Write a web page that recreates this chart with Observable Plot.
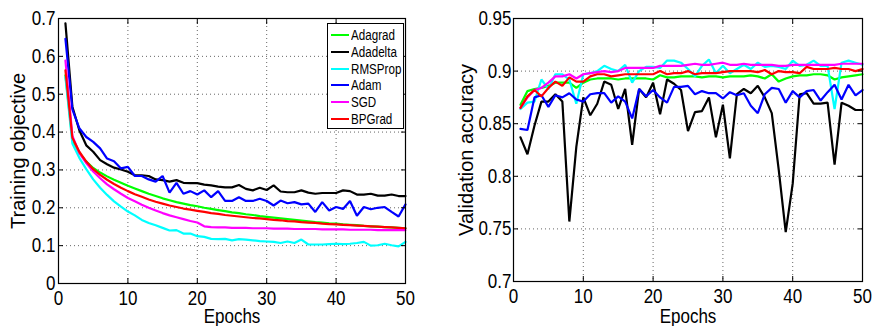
<!DOCTYPE html>
<html>
<head>
<meta charset="utf-8">
<script src="https://cdn.jsdelivr.net/npm/d3@7"></script>
<script src="https://cdn.jsdelivr.net/npm/@observablehq/plot@0.6"></script>
<style>
  html, body { margin: 0; padding: 0; background: white; }
  #wrap { position: relative; width: 873px; height: 326px; overflow: hidden; font-family: "Liberation Sans", Arial, sans-serif; }
  #left { position: absolute; left: 0; top: 0; }
  #right { position: absolute; left: 440px; top: 0; }
  #legend { position: absolute; left: 327px; top: 23px; width: 75px; height: 104px; border: 1px solid black; background: white; box-sizing: content-box; }
  .row { position: absolute; left: 0; height: 16px; display: flex; align-items: center; font-size: 14px; white-space: nowrap; }
  .sw { width: 18px; height: 2px; margin-left: 3px; margin-right: 2px; flex: none; }
  .lt { display: inline-block; transform: scaleX(0.83); transform-origin: left center; }
</style>
</head>
<body>
<div id="wrap">
  <div id="left"></div>
  <div id="right"></div>
  <div id="legend"></div>
</div>
<script>
// ---- data ----
const methods = ["Adagrad", "Adadelta", "RMSProp", "Adam", "SGD", "BPGrad"];
const colors = ["#00ff00", "#000000", "#00ffff", "#0000ff", "#ff00ff", "#ff0000"];
const xTicks = [0, 10, 20, 30, 40, 50];
const trainTicks = [0, 0.1, 0.2, 0.3, 0.4, 0.5, 0.6, 0.7];
const valTicks = [0.7, 0.75, 0.8, 0.85, 0.9, 0.95];

// Training objective per epoch (1..50)
const trainAdagrad = [0.55,0.38,0.345,0.322,0.305,0.293,0.283,0.274,0.266,0.258,0.251,0.244,0.237,0.231,0.225,0.22,0.215,0.211,0.207,0.204,0.2,0.197,0.194,0.191,0.188,0.186,0.183,0.181,0.178,0.176,0.174,0.172,0.17,0.168,0.166,0.164,0.162,0.161,0.159,0.158,0.156,0.155,0.154,0.152,0.151,0.15,0.149,0.148,0.147,0.146];
const trainAdadelta = [0.687,0.467,0.405,0.365,0.348,0.326,0.315,0.306,0.301,0.295,0.286,0.286,0.284,0.275,0.273,0.269,0.273,0.266,0.265,0.265,0.261,0.259,0.256,0.254,0.254,0.26,0.25,0.246,0.253,0.247,0.259,0.243,0.241,0.241,0.246,0.24,0.237,0.239,0.239,0.239,0.246,0.244,0.235,0.235,0.237,0.232,0.232,0.235,0.231,0.231];
const trainRMSProp = [0.545,0.37,0.332,0.302,0.275,0.253,0.234,0.217,0.203,0.19,0.18,0.168,0.16,0.154,0.147,0.14,0.141,0.132,0.132,0.125,0.123,0.118,0.117,0.118,0.114,0.117,0.116,0.114,0.112,0.111,0.11,0.107,0.111,0.107,0.116,0.103,0.103,0.103,0.104,0.105,0.104,0.105,0.107,0.11,0.1,0.101,0.105,0.101,0.098,0.11];
const trainAdam = [0.646,0.46,0.41,0.387,0.374,0.357,0.33,0.323,0.304,0.308,0.284,0.284,0.275,0.269,0.284,0.24,0.266,0.237,0.244,0.235,0.246,0.228,0.244,0.218,0.218,0.228,0.218,0.218,0.224,0.218,0.206,0.219,0.212,0.215,0.209,0.211,0.189,0.215,0.193,0.202,0.197,0.218,0.179,0.202,0.196,0.2,0.202,0.189,0.177,0.209];
const trainSGD = [0.589,0.39,0.345,0.318,0.296,0.278,0.262,0.249,0.237,0.226,0.217,0.208,0.2,0.193,0.186,0.18,0.175,0.17,0.165,0.161,0.151,0.149,0.148,0.148,0.147,0.147,0.147,0.146,0.146,0.146,0.145,0.145,0.145,0.144,0.144,0.144,0.144,0.143,0.143,0.143,0.143,0.142,0.142,0.142,0.142,0.141,0.141,0.141,0.141,0.141];
const trainBPGrad = [0.563,0.385,0.348,0.322,0.302,0.287,0.274,0.263,0.253,0.244,0.236,0.229,0.222,0.216,0.211,0.206,0.202,0.198,0.195,0.192,0.189,0.186,0.184,0.181,0.179,0.177,0.175,0.173,0.172,0.17,0.168,0.167,0.165,0.164,0.162,0.161,0.16,0.158,0.157,0.156,0.155,0.154,0.153,0.152,0.151,0.15,0.149,0.148,0.147,0.146];

// Validation accuracy per epoch (1..50)
const valAdagrad = [0.868,0.881,0.883,0.884,0.886,0.889,0.889,0.889,0.884,0.889,0.892,0.893,0.893,0.893,0.892,0.893,0.893,0.893,0.893,0.892,0.896,0.894,0.894,0.895,0.895,0.895,0.894,0.895,0.895,0.894,0.895,0.895,0.895,0.896,0.895,0.893,0.897,0.89,0.893,0.895,0.896,0.896,0.897,0.897,0.896,0.892,0.894,0.895,0.896,0.897];
const valAdadelta = [0.837,0.821,0.848,0.871,0.871,0.878,0.871,0.757,0.828,0.875,0.858,0.869,0.89,0.887,0.864,0.883,0.83,0.883,0.875,0.889,0.859,0.892,0.888,0.882,0.843,0.861,0.862,0.875,0.837,0.868,0.817,0.878,0.883,0.879,0.886,0.875,0.86,0.806,0.747,0.793,0.878,0.879,0.869,0.869,0.87,0.811,0.87,0.867,0.863,0.863];
const valRMSProp = [0.864,0.87,0.871,0.892,0.883,0.897,0.897,0.892,0.869,0.897,0.898,0.9,0.905,0.902,0.9,0.906,0.889,0.9,0.904,0.904,0.903,0.91,0.91,0.908,0.902,0.895,0.905,0.911,0.898,0.905,0.898,0.902,0.906,0.902,0.908,0.904,0.905,0.904,0.902,0.91,0.905,0.906,0.91,0.905,0.905,0.864,0.908,0.91,0.908,0.906];
const valAdam = [0.845,0.844,0.875,0.877,0.866,0.877,0.875,0.879,0.873,0.871,0.878,0.879,0.879,0.87,0.876,0.871,0.855,0.883,0.876,0.882,0.875,0.87,0.885,0.885,0.886,0.878,0.881,0.879,0.879,0.874,0.88,0.877,0.879,0.867,0.86,0.878,0.884,0.883,0.87,0.881,0.875,0.881,0.882,0.872,0.88,0.887,0.873,0.887,0.877,0.882];
const valSGD = [0.865,0.875,0.882,0.884,0.889,0.895,0.895,0.897,0.893,0.897,0.898,0.899,0.9,0.899,0.9,0.903,0.903,0.903,0.903,0.903,0.905,0.905,0.905,0.905,0.906,0.907,0.906,0.906,0.907,0.908,0.906,0.906,0.907,0.906,0.906,0.906,0.906,0.905,0.905,0.906,0.906,0.906,0.906,0.906,0.906,0.906,0.907,0.907,0.907,0.907];
const valBPGrad = [0.865,0.876,0.882,0.876,0.884,0.89,0.886,0.894,0.89,0.89,0.895,0.897,0.897,0.895,0.896,0.897,0.897,0.897,0.897,0.897,0.9,0.897,0.898,0.898,0.9,0.897,0.898,0.898,0.898,0.899,0.9,0.9,0.9,0.9,0.899,0.901,0.897,0.9,0.899,0.899,0.898,0.904,0.902,0.902,0.902,0.903,0.902,0.902,0.9,0.902];

const trainSeries = [trainAdagrad, trainAdadelta, trainRMSProp, trainAdam, trainSGD, trainBPGrad];
const valSeries = [valAdagrad, valAdadelta, valRMSProp, valAdam, valSGD, valBPGrad];

const tidy = (series) => methods.flatMap((m, k) => series[k].map((v, i) => ({method: m, epoch: i + 1, value: v})));
const trainData = tidy(trainSeries);
const valData = tidy(valSeries);

const FONT = '"Liberation Sans", Arial, sans-serif';
const fmt = d => String(+d.toFixed(2));

function panel({data, yDomain, yTicks, yLabel, width, marginLeft, marginRight, marginBottom, yPad, labelDx, epochDy}) {
  return Plot.plot({
    width, height: 326,
    marginLeft, marginRight, marginTop: 18, marginBottom,
    style: {fontFamily: FONT, fontSize: "20px", background: "white", color: "black", overflow: "visible"},
    x: {domain: [0, 50]},
    y: {domain: yDomain},
    color: {domain: methods, range: colors},
    marks: [
      Plot.gridX(xTicks, {stroke: "#666", strokeOpacity: 1, strokeDasharray: "1,3"}),
      Plot.gridY(yTicks, {stroke: "#666", strokeOpacity: 1, strokeDasharray: "1,3"}),
      Plot.line(data, {x: "epoch", y: "value", z: "method", stroke: "method", strokeWidth: 2.2, strokeLinejoin: "miter"}),
      Plot.frame({stroke: "black", strokeWidth: 1.2}),
      // inward tick marks on all four sides
      Plot.axisX(xTicks, {anchor: "bottom", tickSize: -5, tickFormat: () => "", label: null}),
      Plot.axisX(xTicks, {anchor: "top", tickSize: -5, tickFormat: () => "", label: null}),
      Plot.axisY(yTicks, {anchor: "left", tickSize: -5, tickFormat: () => "", label: null}),
      Plot.axisY(yTicks, {anchor: "right", tickSize: -5, tickFormat: () => "", label: null}),
      // tick labels
      Plot.axisX(xTicks, {anchor: "bottom", tickSize: 0, tickPadding: 7, tickFormat: fmt, label: null}),
      Plot.axisY(yTicks, {anchor: "left", tickSize: 0, tickPadding: yPad, tickFormat: fmt, label: null}),
      // axis titles
      Plot.text([yLabel], {frameAnchor: "left", textAnchor: "middle", lineAnchor: "middle", dx: labelDx, rotate: -90, fontSize: 20, className: "ylab"}),
      Plot.text(["Epochs"], {frameAnchor: "bottom", textAnchor: "middle", dy: epochDy, lineAnchor: "bottom", fontSize: 20})
    ]
  });
}

// the reference typeface is condensed: squeeze horizontal (non-rotated) texts
function condense(svg, k) {
  svg.querySelectorAll("text").forEach(t => {
    if (t.closest(".ylab")) return;
    const w = t.getComputedTextLength();
    if (w > 0) {
      t.setAttribute("textLength", (w * k).toFixed(2));
      t.setAttribute("lengthAdjust", "spacingAndGlyphs");
    }
  });
}

const leftPlot = panel({
  data: trainData, yDomain: [0, 0.7], yTicks: trainTicks, yLabel: "Training objective",
  width: 440, marginLeft: 58, marginRight: 35, marginBottom: 43, yPad: 3, labelDx: -40, epochDy: 39
});
const rightPlot = panel({
  data: valData, yDomain: [0.7, 0.95], yTicks: valTicks, yLabel: "Validation accuracy",
  width: 433, marginLeft: 73, marginRight: 11, marginBottom: 45, yPad: 2, labelDx: -47, epochDy: 41
});
document.getElementById("left").append(leftPlot);
document.getElementById("right").append(rightPlot);
condense(leftPlot, 0.85);
condense(rightPlot, 0.85);

// legend (inside the left axes, top-right)
const legend = document.getElementById("legend");
methods.forEach((m, i) => {
  const row = document.createElement("div");
  row.className = "row";
  row.style.top = (3 + i * 16.8) + "px";
  const sw = document.createElement("div");
  sw.className = "sw";
  sw.style.background = colors[i];
  const t = document.createElement("span");
  t.className = "lt";
  t.textContent = m;
  row.append(sw, t);
  legend.append(row);
});
</script>
</body>
</html>
